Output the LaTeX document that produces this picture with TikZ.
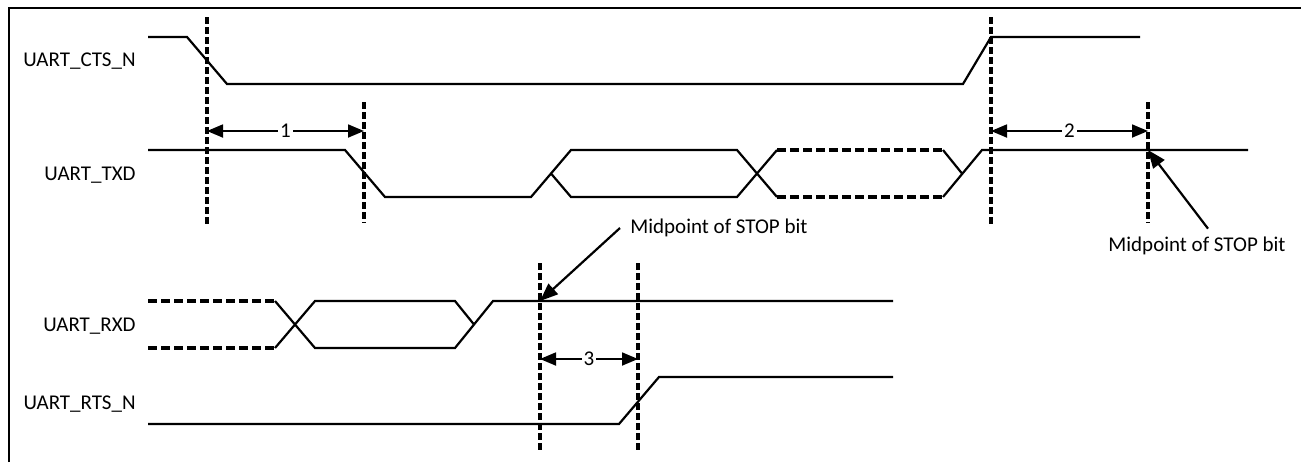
\documentclass[tikz,border=0pt]{standalone}
\usepackage{fontspec}
\setmainfont{Carlito}
\usepackage{tikz}
\usetikzlibrary{arrows.meta}
\tikzstyle{wave} = [line width=1.1pt, line join=miter]
\tikzstyle{bus} = [line width=1.6pt, dash pattern=on 4.5pt off 2pt]
\tikzstyle{marker} = [line width=1.7pt, dash pattern=on 3.5pt off 1.5pt]
\tikzstyle{gap} = [line width=0.9pt,
{Triangle[length=8pt,width=6.5pt]}-{Triangle[length=8pt,width=6.5pt]}]
\tikzstyle{gapnum} = [fill=white, inner sep=1pt, font=\fontsize{10.5}{12}\selectfont]
\tikzstyle{signame} = [anchor=east, inner sep=0pt, font=\fontsize{10.5}{12}\selectfont]
\tikzstyle{note} = [inner sep=3pt, font=\fontsize{10.5}{12}\selectfont]
\tikzstyle{pointer} = [line width=1.1pt, -{Triangle[length=9pt,width=7pt]}]

\begin{document}
\begin{tikzpicture}[x=0.5pt, y=-0.5pt]
        \useasboundingbox (0,0) rectangle (1301,462);
        \draw [line width=1.4pt] (9,462) -- (9,8) -- (1301,8);

        \node [signame] (cts) at (136,61) {UART\_CTS\_N};
        \node [signame] (txd) at (136,175) {UART\_TXD};
        \node [signame] (rxd) at (136,326) {UART\_RXD};
        \node [signame] (rts) at (136,404) {UART\_RTS\_N};

        % UART_CTS_N
        \draw [wave] (148,37) -- (187,37) -- (227,84) -- (963,84) -- (991,37) -- (1140,37);
        % UART_TXD
        \draw [wave] (148,150) -- (345,150) -- (385,197) -- (531,197) -- (571,150)
            -- (737,150) -- (777,197);
        \draw [wave] (551,173.5) -- (571,197) -- (737,197) -- (777,150);
        \draw [bus] (777,150) -- (943,150);
        \draw [bus] (777,197) -- (943,197);
        \draw [wave] (943,150) -- (962,173.5);
        \draw [wave] (943,197) -- (982,150) -- (1248,150);
        % UART_RXD
        \draw [bus] (148,301) -- (275,301);
        \draw [bus] (148,348) -- (275,348);
        \draw [wave] (275,301) -- (315,348) -- (455,348) -- (493,301) -- (893,301);
        \draw [wave] (275,348) -- (315,301) -- (455,301) -- (474,324.5);
        % UART_RTS_N
        \draw [wave] (148,424) -- (619,424) -- (659,377) -- (893,377);

        \draw [marker] (207,17) -- (207,227);
        \draw [marker] (364,102) -- (364,223);
        \draw [marker] (991,17) -- (991,227);
        \draw [marker] (1148,102) -- (1148,223);
        \draw [marker] (540,263) -- (540,452);
        \draw [marker] (638,263) -- (638,452);

        \coordinate (t1a) at (207,131);
        \coordinate (t1b) at (364,131);
        \coordinate (t2a) at (991,131);
        \coordinate (t2b) at (1148,131);
        \coordinate (t3a) at (540,359);
        \coordinate (t3b) at (638,359);
        \draw [gap] (t1a) -- node [gapnum] (n1) {1} (t1b);
        \draw [gap] (t2a) -- node [gapnum] (n2) {2} (t2b);
        \draw [gap] (t3a) -- node [gapnum] (n3) {3} (t3b);

        \coordinate (rxstop) at (540,301);
        \coordinate (txstop) at (1148,150);
        \node [note, anchor=west] (stop1) at (624,228) {Midpoint of STOP bit};
        \node [note] (stop2) at (1197,246) {Midpoint of STOP bit};
        \draw [pointer] ([xshift=-2pt]stop1.west) -- (rxstop);
        \draw [pointer] ([xshift=5.5pt, yshift=1pt]stop2.north) -- (txstop);
    \end{tikzpicture}
\end{document}
